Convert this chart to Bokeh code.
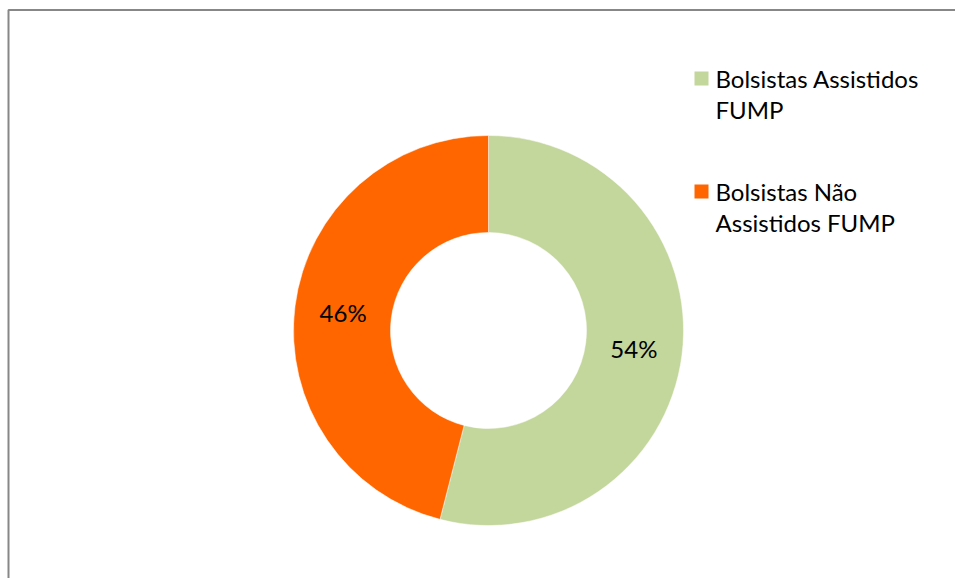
from math import pi, sin, cos
from bokeh.plotting import figure
from bokeh.models import Range1d, ColumnDataSource
from bokeh.core.properties import value
from bokeh.embed import file_html
from bokeh.resources import INLINE

categories = ["Bolsistas Assistidos FUMP", "Bolsistas Não Assistidos FUMP"]
legend_lines = [["Bolsistas Assistidos", "FUMP"], ["Bolsistas Não", "Assistidos FUMP"]]
shares = [54, 46]
labels = ["54%", "46%"]
colors = ["#C3D69B", "#FF6600"]

W, H = 955, 578
FONT = "Lato"
FS = "24px"

p = figure(width=W, height=H, output_backend="svg", toolbar_location=None,
           x_range=Range1d(0, W), y_range=Range1d(0, H), min_border=0)
p.axis.visible = False
p.grid.visible = False
p.outline_line_color = None
p.background_fill_color = "white"
p.border_fill_color = "white"

# chart area border (top and left visible; extends beyond window)
p.quad(left=[8], right=[W + 20], bottom=[-20], top=[H - 9.5],
       fill_color=None, line_color="#878787", line_width=2)

cx, cy = 488, H - 330
r_out, r_in = 195, 98

total = sum(shares)
start = pi / 2
starts, ends, lx, ly = [], [], [], []
for s in shares:
    sweep = 2 * pi * s / total
    end = start - sweep
    starts.append(start)
    ends.append(end)
    mid = (start + end) / 2
    rm = (r_out + r_in) / 2
    lx.append(cx + rm * cos(mid))
    ly.append(cy + rm * sin(mid))
    start = end

src = ColumnDataSource(dict(start=starts, end=ends, color=colors, lx=lx, ly=ly, label=labels))
p.annular_wedge(x=cx, y=cy, inner_radius=r_in, outer_radius=r_out,
                start_angle="start", end_angle="end", direction="clock",
                fill_color="color", line_color="white", line_width=0.5, source=src)
p.text(x="lx", y="ly", text="label", source=src, text_font=value(FONT),
       text_font_size=FS, text_align="center", text_baseline="middle",
       text_color="black")

# legend
leg_x = 701
leg_y0 = H - 78
leg_gap = 113
line_gap = 31
sq_x, sq_y, txt_x, txt_y, txt = [], [], [], [], []
for i, lines in enumerate(legend_lines):
    y = leg_y0 - i * leg_gap
    sq_x.append(leg_x)
    sq_y.append(y)
    for j, ln in enumerate(lines):
        txt_x.append(715)
        txt_y.append(y - j * line_gap)
        txt.append(ln)
p.rect(x=sq_x, y=sq_y, width=14, height=14, fill_color=colors, line_color=None)
p.text(x=txt_x, y=txt_y, text=txt, text_font=value(FONT), text_font_size=FS,
       text_align="left", text_baseline="middle", text_color="black")

open("out.html", "w").write(file_html(p, INLINE))
